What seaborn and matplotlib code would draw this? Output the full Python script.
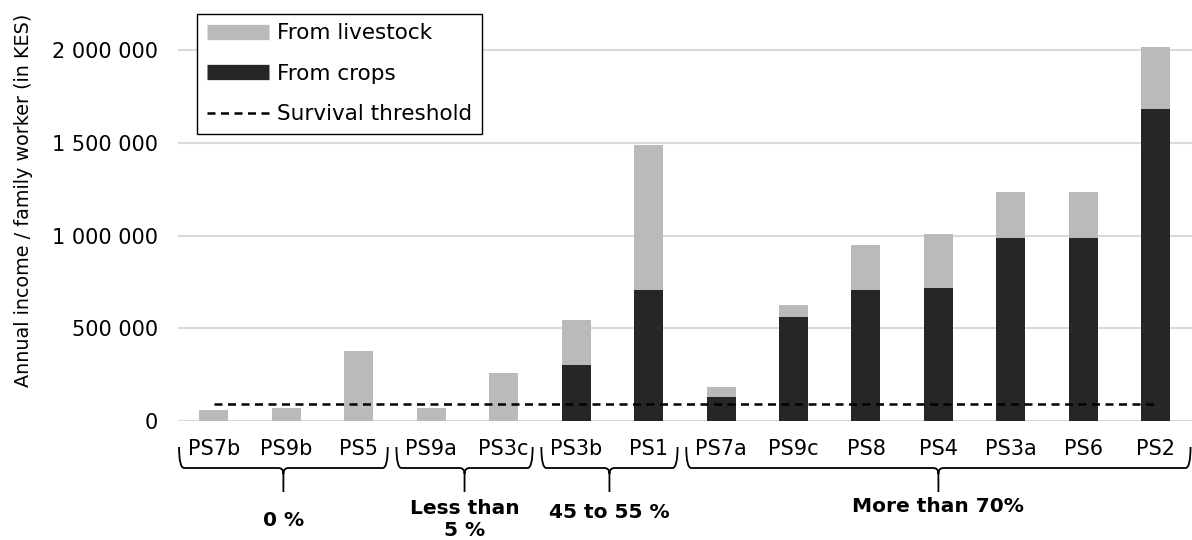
import numpy as np
import pandas as pd
import matplotlib
matplotlib.use("Agg")
import matplotlib.pyplot as plt
import seaborn as sns
from matplotlib.lines import Line2D
from matplotlib.path import Path
from matplotlib.patches import PathPatch
from matplotlib.transforms import blended_transform_factory

# Production systems, ordered by share of income from crops
systems = ["PS7b", "PS9b", "PS5", "PS9a", "PS3c", "PS3b", "PS1",
           "PS7a", "PS9c", "PS8", "PS4", "PS3a", "PS6", "PS2"]
from_crops = [0, 0, 0, 0, 0, 300000, 705000,
              130000, 562000, 705000, 718000, 988000, 988000, 1680000]
from_livestock = [57000, 68000, 378000, 68000, 257000, 245000, 785000,
                  51000, 64000, 242000, 290000, 246000, 246000, 336000]
survival_threshold = 90000

# share of crops groups: (label, first system index, last system index)
group_labels = ["0 %", "Less than\n5 %", "45 to 55 %", "More than 70%"]
group_first = [0, 3, 5, 7]
group_last = [2, 4, 6, 13]

df = pd.DataFrame({"system": systems, "crops": from_crops, "livestock": from_livestock})
df["total"] = df["crops"] + df["livestock"]

sns.set_theme(style="white")
plt.rcParams["font.family"] = ["DejaVu Sans"]
plt.rcParams["text.color"] = "black"

LIGHT = "#bababa"
DARK = "#262626"
DASH = (0, (3.2, 2.2))

fig = plt.figure(figsize=(11.92, 5.4), dpi=100)
ax = fig.add_axes([0.149, 0.2204, 0.851, 0.7556])

sns.barplot(data=df, x="system", y="total", color=LIGHT, width=0.4,
            saturation=1, linewidth=0, ax=ax, zorder=3)
sns.barplot(data=df, x="system", y="crops", color=DARK, width=0.4,
            saturation=1, linewidth=0, ax=ax, zorder=4)
ax.plot(np.arange(len(systems)), [survival_threshold] * len(systems),
        color="black", lw=1.8, ls=DASH, zorder=5)

ax.set_xlim(-0.5, len(systems) - 0.5)
ax.set_ylim(0, 2200000)
ax.set_yticks([0, 500000, 1000000, 1500000, 2000000])
ax.set_yticklabels(["0", "500 000", "1 000 000", "1 500 000", "2 000 000"])
ax.yaxis.grid(True, color="#d9d9d9", lw=1.5, zorder=0)
ax.set_axisbelow(True)
for s in ax.spines.values():
    s.set_visible(False)
ax.tick_params(axis="both", length=0, labelsize=15, colors="black")
ax.tick_params(axis="y", pad=14)
ax.tick_params(axis="x", pad=13)
ax.set_xlabel("")
ax.set_ylabel("Annual income / family worker (in KES)", fontsize=13.8, color="black")
ax.yaxis.set_label_coords(-0.143, 0.542)

handles = [Line2D([], [], color=LIGHT, lw=11, solid_capstyle="butt"),
           Line2D([], [], color=DARK, lw=11, solid_capstyle="butt"),
           Line2D([], [], color="black", lw=1.8, ls=DASH)]
leg = ax.legend(handles, ["From livestock", "From crops", "Survival threshold"],
                loc="upper left", bbox_to_anchor=(0.019, 0.998), fontsize=15.5,
                handlelength=2.9, handletextpad=0.37, labelspacing=0.95,
                borderpad=0.45, borderaxespad=0, fancybox=False, framealpha=1)
leg.get_frame().set_edgecolor("black")
leg.get_frame().set_linewidth(1.0)

# curly braces below the tick labels, x in data, y in figure pixels from top
H = 540.0
trans = blended_transform_factory(ax.transData, fig.transFigure)


def fy(py):
    return 1 - py / H


def brace(x0, x1, top=447, mid=468, tip=492, r=0.07):
    xc = (x0 + x1) / 2
    verts = [
        (x0, fy(top)), (x0, fy(mid)), (x0 + r, fy(mid)),
        (xc - r, fy(mid)), (xc, fy(mid)), (xc, fy(mid + 6)),
        (xc, fy(tip)),
        (xc, fy(mid + 6)), (xc, fy(mid)), (xc + r, fy(mid)),
        (x1 - r, fy(mid)), (x1, fy(mid)), (x1, fy(top)),
    ]
    codes = [Path.MOVETO, Path.CURVE3, Path.CURVE3,
             Path.LINETO, Path.CURVE3, Path.CURVE3,
             Path.LINETO,
             Path.MOVETO, Path.CURVE3, Path.CURVE3,
             Path.LINETO, Path.CURVE3, Path.CURVE3]
    patch = PathPatch(Path(verts, codes), facecolor="none", edgecolor="black",
                      lw=1.3, transform=trans, clip_on=False)
    fig.add_artist(patch)
    return xc


label_y = [520, 520, 512, 507]
for lab, a, b, ly in zip(group_labels, group_first, group_last, label_y):
    x0 = a - 0.48
    x1 = b + 0.5 - (0.02 if b == len(systems) - 1 else 0.1)
    xc = brace(x0, x1)
    fig.text(xc, fy(ly), lab, transform=trans, ha="center", va="center",
             fontsize=14.5, fontweight="bold", linespacing=1.2, color="black")

fig.savefig("out.png", dpi=100)
